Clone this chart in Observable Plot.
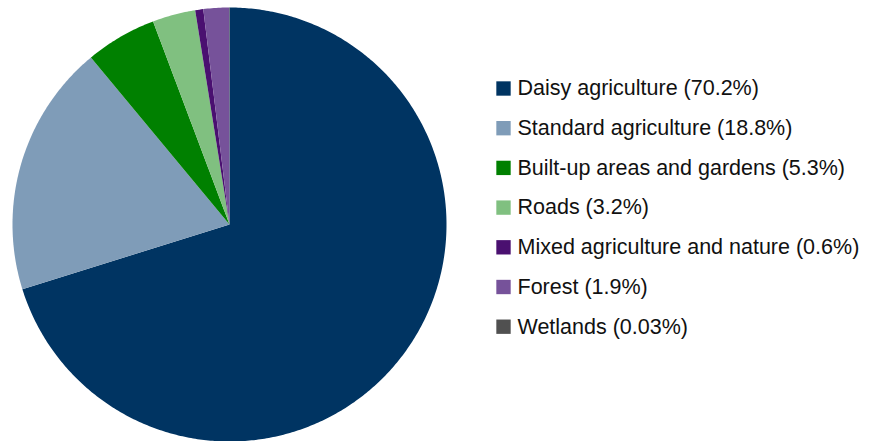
<!DOCTYPE html>
<html>
<head>
<meta charset="utf-8">
<script src="https://cdn.jsdelivr.net/npm/d3@7"></script>
<script src="https://cdn.jsdelivr.net/npm/@observablehq/plot@0.6"></script>
<style>
  html, body { margin: 0; padding: 0; background: #fff; }
  #chart svg { display: block; }
</style>
</head>
<body>
<div id="chart"></div>
<script>
const categories = [
  "Daisy agriculture",
  "Standard agriculture",
  "Built-up areas and gardens",
  "Roads",
  "Mixed agriculture and nature",
  "Forest",
  "Wetlands"
];
const values = [70.2, 18.8, 5.3, 3.2, 0.6, 1.9, 0.03];
const labels = ["70.2%", "18.8%", "5.3%", "3.2%", "0.6%", "1.9%", "0.03%"];
const colors = ["#003462", "#7f9cb8", "#008000", "#80c080", "#4a1070", "#76529a", "#505050"];

const data = categories.map((c, i) => ({category: c, value: values[i], label: labels[i]}));

// pie geometry in unit-circle coordinates
const arcs = d3.pie().value(d => d.value).sort(null)(data);
const slices = [];
for (const a of arcs) {
  const n = Math.max(2, Math.ceil((a.endAngle - a.startAngle) / 0.01));
  slices.push({category: a.data.category, x: 0, y: 0});
  for (let k = 0; k <= n; k++) {
    const t = a.startAngle + (a.endAngle - a.startAngle) * k / n;
    slices.push({category: a.data.category, x: Math.sin(t), y: Math.cos(t)});
  }
  slices.push({category: a.data.category, x: 0, y: 0});
}

// legend layout (unit-circle coordinates, radius = 217px)
const R = 217, CX = 229, CY = 224;
const legendX = (503 - CX) / R;
const legendRow = i => (CY - (88 + i * 39.7)) / R;
const legend = data.map((d, i) => ({...d, lx: legendX, ly: legendRow(i)}));

const W = 869, H = 441;
const chart = Plot.plot({
  width: W,
  height: H,
  margin: 0,
  x: {domain: [-CX / R, (W - CX) / R], range: [0, W], axis: null},
  y: {domain: [(CY - H) / R, CY / R], range: [H, 0], axis: null},
  color: {domain: categories, range: colors},
  style: {fontFamily: "'Liberation Sans', Arial, sans-serif", background: "#fff"},
  marks: [
    Plot.line(slices, {x: "x", y: "y", z: "category", fill: "category", stroke: "none", curve: "linear"}),
    Plot.dot(legend, {x: "lx", y: "ly", symbol: "square", r: 8.1, fill: "category", stroke: "none"}),
    Plot.text(legend, {
      x: "lx", y: "ly",
      text: d => `${d.category} (${d.label})`,
      dx: 14, textAnchor: "start", fontSize: 21.5, fill: "#111",
      fontFamily: "'Liberation Sans', Arial, sans-serif"
    })
  ]
});
document.getElementById("chart").appendChild(chart);
</script>
</body>
</html>
